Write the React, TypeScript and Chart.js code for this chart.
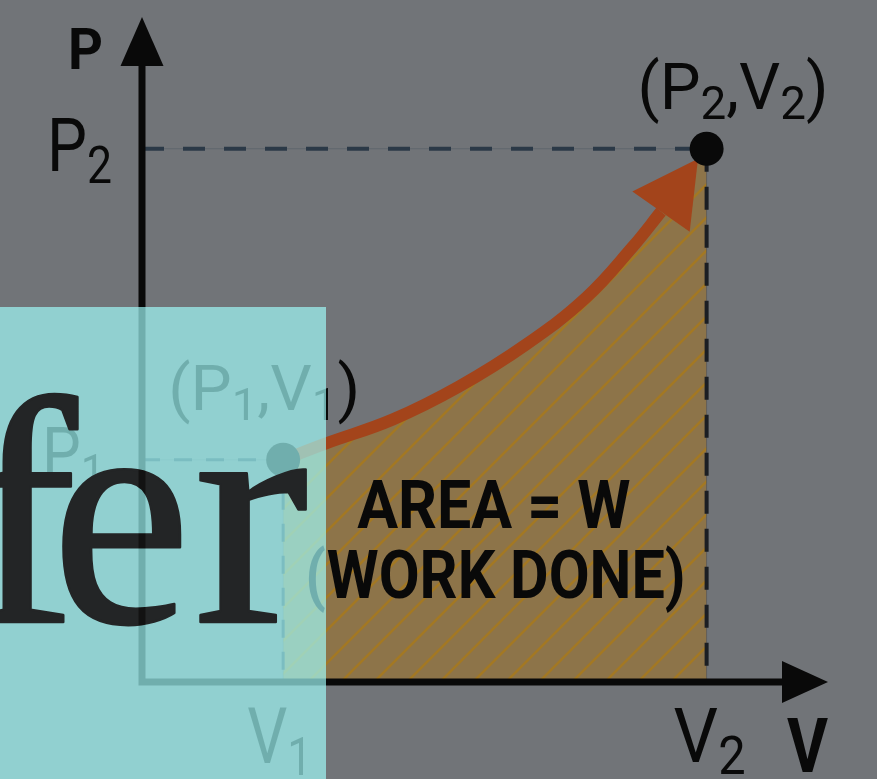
import React, { useEffect, useRef } from "react";
import { Chart, registerables } from "chart.js";

Chart.register(...registerables);

// ---- data (V = volume, P = pressure, arbitrary units) ----
const curveV = [1.0, 1.304, 1.778, 2.246, 2.721, 3.146, 3.478, 3.677];
const curveP = [1.0, 1.074, 1.182, 1.33, 1.519, 1.73, 1.96, 2.117];
const arrowTipV = 3.939;
const arrowTipP = 2.355;
const areaEndV = [3.939, 4.0];
const areaEndP = [2.355, 2.315];
const stateV = [1, 4];
const stateP = [1, 2.4];
const vMax = 4.86;
const pMax = 2.993;

// ---- texts ( "_x" = subscript x ) ----
const pTickLabels = ["P_1", "P_2"];
const vTickLabels = ["V_1", "V_2"];
const stateLabels = ["(P_1,V_1)", "(P_2,V_2)"];
const axisTitleV = "V";
const axisTitleP = "P";
const areaLabel = ["AREA = W", "(WORK DONE)"];
const overlayWord = "fer";

// ---- colours (before the dimming layer) ----
const BG = "rgb(174,179,185)";
const INK = "rgb(14,14,14)";
const ORANGE = "rgb(250,105,42)";
const AREA_FILL = "rgb(217,178,113)";
const HATCH = "rgb(250,185,55)";
const DASH_H = "rgb(66,88,110)";
const DASH_V = "rgb(42,47,54)";
const DIM = "rgba(0,0,0,0.35)";
const TEAL = "rgba(138,215,214,0.8)";
const WORD = "rgb(35,37,38)";
const WORD_STRIPE = "rgb(18,18,18)";

type Seg = { t: string; sub: boolean };
function parseSegs(s: string): Seg[] {
  const out: Seg[] = [];
  let buf = "";
  for (let i = 0; i < s.length; i++) {
    if (s[i] === "_" && i + 1 < s.length) {
      if (buf) out.push({ t: buf, sub: false });
      buf = "";
      out.push({ t: s[i + 1], sub: true });
      i++;
    } else buf += s[i];
  }
  if (buf) out.push({ t: buf, sub: false });
  return out;
}

function drawLabel(
  ctx: CanvasRenderingContext2D,
  str: string,
  left: number,
  right: number,
  baseline: number,
  size: number,
  bold: boolean,
  color: string
) {
  const segs = parseSegs(str);
  const w = bold ? "700" : "400";
  const mainFont = `${w} ${size}px Roboto`;
  const subFont = `${w} ${Math.round(size * 0.7)}px Roboto`;
  let total = 0;
  for (const s of segs) {
    ctx.font = s.sub ? subFont : mainFont;
    total += ctx.measureText(s.t).width;
  }
  const sx = (right - left) / total;
  ctx.save();
  ctx.translate(left, baseline);
  ctx.scale(sx, 1);
  ctx.fillStyle = color;
  ctx.textBaseline = "alphabetic";
  ctx.textAlign = "left";
  let cur = 0;
  for (const s of segs) {
    ctx.font = s.sub ? subFont : mainFont;
    ctx.fillText(s.t, cur, s.sub ? size * 0.16 : 0);
    cur += ctx.measureText(s.t).width;
  }
  ctx.restore();
}

function makeHatch(): CanvasPattern | string {
  const s = 33;
  const c = document.createElement("canvas");
  c.width = s;
  c.height = s;
  const g = c.getContext("2d");
  if (!g) return AREA_FILL;
  g.fillStyle = AREA_FILL;
  g.fillRect(0, 0, s, s);
  g.strokeStyle = HATCH;
  g.lineWidth = 2.5;
  g.beginPath();
  g.moveTo(0, s);
  g.lineTo(s, 0);
  g.moveTo(-5, 5);
  g.lineTo(5, -5);
  g.moveTo(s - 5, s + 5);
  g.lineTo(s + 5, s - 5);
  g.stroke();
  return g.createPattern(c, "repeat") || AREA_FILL;
}

function dashed(
  ctx: CanvasRenderingContext2D,
  x1: number,
  y1: number,
  x2: number,
  y2: number,
  color: string,
  dash: number[],
  width: number
) {
  ctx.save();
  ctx.strokeStyle = color;
  ctx.globalAlpha = 0.25;
  ctx.lineWidth = 1;
  ctx.beginPath();
  ctx.moveTo(x1, y1);
  ctx.lineTo(x2, y2);
  ctx.stroke();
  ctx.globalAlpha = 1;
  ctx.lineWidth = width;
  ctx.setLineDash(dash);
  ctx.beginPath();
  ctx.moveTo(x1, y1);
  ctx.lineTo(x2, y2);
  ctx.stroke();
  ctx.restore();
}

function triangle(
  ctx: CanvasRenderingContext2D,
  bx: number,
  by: number,
  tx: number,
  ty: number,
  half: number,
  color: string
) {
  const dx = tx - bx;
  const dy = ty - by;
  const len = Math.hypot(dx, dy) || 1;
  const px = (-dy / len) * half;
  const py = (dx / len) * half;
  ctx.save();
  ctx.fillStyle = color;
  ctx.beginPath();
  ctx.moveTo(tx, ty);
  ctx.lineTo(bx + px, by + py);
  ctx.lineTo(bx - px, by - py);
  ctx.closePath();
  ctx.fill();
  ctx.restore();
}

// draws the big serif word, fitting each glyph's ink box to the reference
function drawWord(g: CanvasRenderingContext2D, baseline: number) {
  const fam = "'Liberation Serif', 'Times New Roman', serif";
  g.font = `400 340px ${fam}`;
  const xh = g.measureText("x").actualBoundingBoxAscent || 152;
  const S = Math.round((340 * 152) / xh);
  g.font = `400 ${S}px ${fam}`;
  g.textAlign = "left";
  g.textBaseline = "alphabetic";
  g.fillStyle = WORD;
  g.strokeStyle = WORD;
  g.lineJoin = "round";
  const boxes: { ch: string; left?: number; right: number }[] = [
    { ch: overlayWord[1], left: 61, right: 184 },
    { ch: overlayWord[2], left: 199, right: 307 },
    { ch: overlayWord[0], right: 81 },
  ];
  const sxs: number[] = [];
  for (const b of boxes) {
    const m = g.measureText(b.ch);
    const inkL = -m.actualBoundingBoxLeft;
    const inkR = m.actualBoundingBoxRight;
    let sx: number;
    let ox: number;
    if (b.left !== undefined) {
      sx = (b.right - b.left) / Math.max(1, inkR - inkL);
      sxs.push(sx);
      ox = b.left - inkL * sx;
    } else {
      sx = sxs.length ? sxs.reduce((a, c) => a + c, 0) / sxs.length : 1;
      ox = b.right - inkR * sx;
    }
    g.save();
    g.translate(ox, baseline);
    g.scale(sx, 1);
    g.lineWidth = 2.5 / sx;
    g.fillText(b.ch, 0, 0);
    g.strokeText(b.ch, 0, 0);
    g.restore();
  }
}

const pvPlugin = {
  id: "pvDiagram",
  beforeDraw(chart: any) {
    const { ctx, width, height } = chart;
    ctx.save();
    ctx.fillStyle = BG;
    ctx.fillRect(0, 0, width, height);
    ctx.restore();
  },
  beforeDatasetDraw(chart: any, args: any) {
    if (args.index !== 1) return;
    const { ctx, chartArea } = chart;
    const xs = chart.scales.x;
    const ys = chart.scales.y;
    const x0 = xs.getPixelForValue(0);
    const y0 = ys.getPixelForValue(0);
    const xV1 = xs.getPixelForValue(stateV[0]);
    const xV2 = xs.getPixelForValue(stateV[1]);
    const yP1 = ys.getPixelForValue(stateP[0]);
    const yP2 = ys.getPixelForValue(stateP[1]);
    dashed(ctx, x0, yP2, xV2, yP2, DASH_H, [22, 19], 4);
    dashed(ctx, xV2, yP2, xV2, y0, DASH_V, [23, 15], 4);
    dashed(ctx, x0, yP1, xV1, yP1, DASH_H, [18, 14], 3);
    dashed(ctx, xV1, yP1, xV1, y0, DASH_H, [18, 14], 3);
    ctx.save();
    ctx.strokeStyle = INK;
    ctx.lineWidth = 7;
    ctx.lineCap = "butt";
    ctx.beginPath();
    ctx.moveTo(x0, y0 + 3.5);
    ctx.lineTo(x0, chartArea.top + 40);
    ctx.moveTo(x0 - 3.5, y0);
    ctx.lineTo(chartArea.right - 40, y0);
    ctx.stroke();
    ctx.restore();
    triangle(ctx, x0, chartArea.top + 49, x0, chartArea.top, 21.5, INK);
    triangle(ctx, chartArea.right - 46, y0, chartArea.right, y0, 21, INK);
  },
  afterDatasetDraw(chart: any, args: any) {
    if (args.index !== 1) return;
    const { ctx } = chart;
    const meta = chart.getDatasetMeta(1);
    const last = meta.data[meta.data.length - 1];
    const tx = chart.scales.x.getPixelForValue(arrowTipV);
    const ty = chart.scales.y.getPixelForValue(arrowTipP);
    triangle(ctx, last.x, last.y, tx, ty, 35, ORANGE);
  },
  afterDraw(chart: any) {
    const { ctx, chartArea, width, height } = chart;
    const xs = chart.scales.x;
    const ys = chart.scales.y;
    const x0 = xs.getPixelForValue(0);
    const y0 = ys.getPixelForValue(0);
    const xV1 = xs.getPixelForValue(stateV[0]);
    const xV2 = xs.getPixelForValue(stateV[1]);
    const yP1 = ys.getPixelForValue(stateP[0]);
    const yP2 = ys.getPixelForValue(stateP[1]);

    drawLabel(ctx, axisTitleP, x0 - 74, x0 - 39, chartArea.top + 52, 58, true, INK);
    drawLabel(ctx, axisTitleV, chartArea.right - 41, chartArea.right, y0 + 90, 76, true, INK);
    drawLabel(ctx, pTickLabels[1], x0 - 95, x0 - 30, yP2 + 22, 74, false, INK);
    drawLabel(ctx, pTickLabels[0], x0 - 100, x0 - 37, yP1 + 17, 70, false, INK);
    drawLabel(ctx, vTickLabels[0], xV1 - 36, xV1 + 29, y0 + 81, 77, false, INK);
    drawLabel(ctx, vTickLabels[1], xV2 - 33, xV2 + 39, y0 + 80, 76, false, INK);
    drawLabel(ctx, stateLabels[0], xV1 - 115, xV1 + 77, yP1 - 50, 63, false, INK);
    drawLabel(ctx, stateLabels[1], xV2 - 69, xV2 + 122, yP2 - 40, 65, false, INK);
    drawLabel(ctx, areaLabel[0], xV1 + 74, xV2 - 76, y0 - 154, 67, true, INK);
    drawLabel(ctx, areaLabel[1], xV1 + 22, xV2 - 21, y0 - 84, 67, true, INK);

    // dimming layer + overlay panel
    const tx = 0, ty = 307, tw = 326, th = height - 307;
    ctx.save();
    ctx.fillStyle = DIM;
    ctx.beginPath();
    ctx.rect(0, 0, width, height);
    ctx.rect(tx, ty, tw, th);
    ctx.fill("evenodd");
    ctx.fillStyle = TEAL;
    ctx.fillRect(tx, ty, tw, th);
    ctx.restore();

    // word on its own layer; the axis shows faintly through it
    const off = document.createElement("canvas");
    off.width = width;
    off.height = height;
    const g = off.getContext("2d");
    if (g) {
      drawWord(g, 622);
      g.globalCompositeOperation = "source-atop";
      g.fillStyle = WORD_STRIPE;
      g.fillRect(x0 - 3.5, ty, 7, y0 - ty);
      ctx.drawImage(off, 0, 0);
    }
  },
};

export default function App() {
  const ref = useRef<HTMLCanvasElement | null>(null);
  useEffect(() => {
    const canvas = ref.current;
    if (!canvas) return;
    const curve = curveV.map((v, i) => ({ x: v, y: curveP[i] }));
    const area = [...curve, ...areaEndV.map((v, i) => ({ x: v, y: areaEndP[i] }))];
    const chart = new Chart(canvas, {
      type: "line",
      data: {
        datasets: [
          {
            label: "states",
            data: stateV.map((v, i) => ({ x: v, y: stateP[i] })),
            pointRadius: 17,
            pointBackgroundColor: INK,
            pointBorderColor: INK,
            pointBorderWidth: 0,
            showLine: false,
            fill: false,
          },
          {
            label: "process",
            data: curve,
            borderColor: ORANGE,
            borderWidth: 12,
            pointRadius: 0,
            fill: false,
            tension: 0.4,
          },
          {
            label: "work",
            data: area,
            borderColor: "rgba(0,0,0,0)",
            borderWidth: 0,
            pointRadius: 0,
            fill: "origin",
            backgroundColor: makeHatch() as any,
            tension: 0.4,
          },
        ],
      },
      options: {
        animation: false,
        responsive: false,
        events: [],
        layout: { padding: { left: 142, right: 49, top: 16, bottom: 97 } },
        scales: {
          x: { type: "linear", min: 0, max: vMax, display: false },
          y: { type: "linear", min: 0, max: pMax, display: false },
        },
        plugins: { legend: { display: false }, tooltip: { enabled: false } },
      },
      plugins: [pvPlugin],
    } as any);
    return () => chart.destroy();
  }, []);
  return (
    <div style={{ position: "absolute", left: 0, top: 0, width: 877, height: 779 }}>
      <canvas ref={ref} width={877} height={779} style={{ display: "block" }} />
    </div>
  );
}
